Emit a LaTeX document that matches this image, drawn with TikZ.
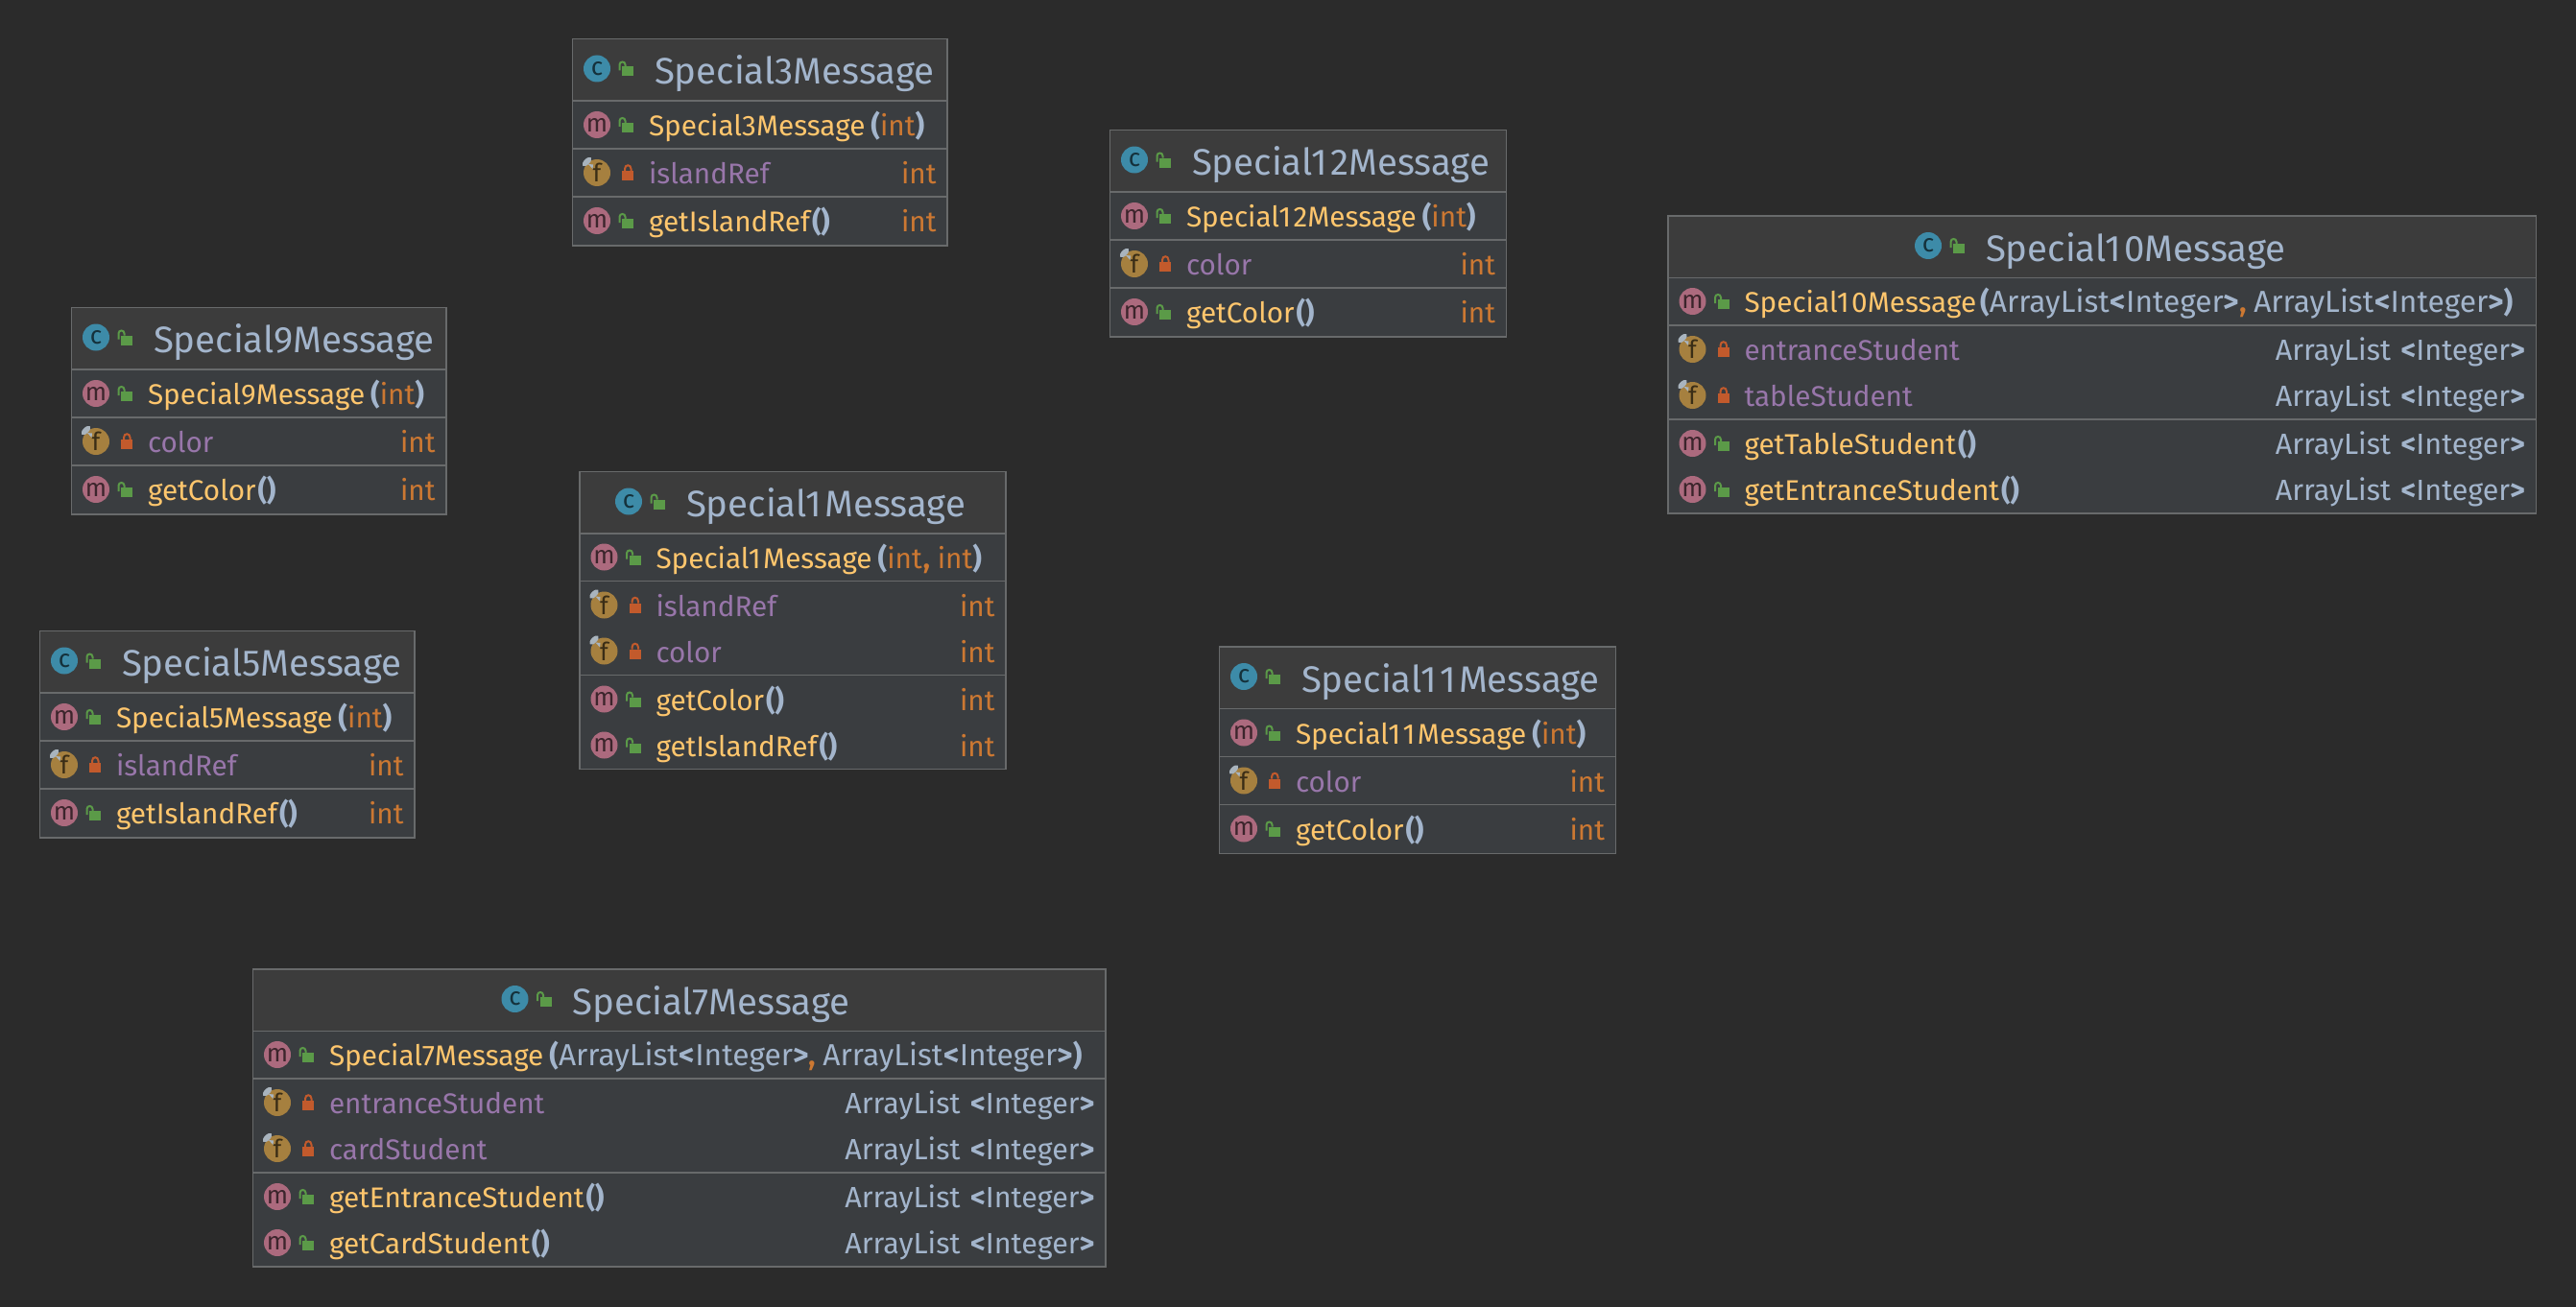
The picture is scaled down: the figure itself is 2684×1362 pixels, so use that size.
\documentclass[tikz,border=0pt]{standalone}
\usepackage{fontspec}
\setmainfont{Fira Sans}
\definecolor{bgc}{HTML}{2B2B2B}
\definecolor{headc}{HTML}{3C3C3C}
\definecolor{bodyc}{HTML}{3A3D40}
\definecolor{linec}{HTML}{686A6B}
\definecolor{titlec}{HTML}{A3B5CC}
\definecolor{methc}{HTML}{FFC66D}
\definecolor{fieldc}{HTML}{9876AA}
\definecolor{typec}{HTML}{CC7832}
\definecolor{icc}{HTML}{3D8BA8}
\definecolor{icm}{HTML}{AC6A7E}
\definecolor{icf}{HTML}{A6803F}
\definecolor{lockg}{HTML}{5B9A48}
\definecolor{lockr}{HTML}{C25A2C}
\definecolor{pinc}{HTML}{A9B4BE}
\tikzset{
  boxbody/.style={draw=linec,line width=1.8pt,fill=bodyc,anchor=north west,inner sep=0,outer sep=0},
  boxhead/.style={draw=linec,line width=1.8pt,fill=headc,anchor=north west,inner sep=0,outer sep=0},
  sepline/.style={draw=linec,line width=1.6pt},
  titletext/.style={anchor=base west,inner sep=0,outer sep=0,text=titlec,font=\fontsize{38.4}{40}\selectfont},
  rowtext/.style={anchor=base west,inner sep=0,outer sep=0,font=\fontsize{29.7}{32}\selectfont},
  righttext/.style={anchor=base east,inner sep=0,outer sep=0,text=titlec,font=\fontsize{29.7}{32}\selectfont},
  iconc/.style={circle,minimum size=28pt,inner sep=0,outer sep=0},
  iconm/.style={iconc,font=\fontsize{26}{26}\selectfont},
}
% small text helpers
\newcommand\oo{1\kern.08em }
\newcommand\pl{{\color{titlec}\textbf{(}}}
\newcommand\pr{{\color{titlec}\textbf{)}}}
\newcommand\emptyargs{\kern2pt{\color{titlec}\textbf{(\kern-.5pt)}}}
\newcommand\ty[1]{{\color{typec}#1}}
\newcommand\lst{{\color{titlec}\fontsize{31.7}{34}\selectfont ArrayList\kern1pt\textbf{<}Integer\textbf{>}}}
\newcommand\rlist{{\fontsize{30.5}{32}\selectfont ArrayList\kern10.5pt\textbf{<}Integer\textbf{>}}}
% lock glyphs, drawn around an icon centre at local (0,0)
\newcommand\lockopen{%
  \fill[lockg] (26,-2) rectangle (38,8);
  \draw[lockg,line width=2pt] (23.5,2) -- (23.5,-4) .. controls (23.5,-8) and (29.5,-8) .. (29.5,-4) -- (29.5,-2);}
\newcommand\lockshut{%
  \fill[lockr] (26,-2) rectangle (38,8);
  \draw[lockr,line width=2pt] (29,-2) -- (29,-4) .. controls (29,-9) and (35.5,-9) .. (35.5,-4) -- (35.5,-2);}
\newcommand\pin{%
  \fill[pinc,shift={(-10.5,-11.5)},rotate=45] (0,0) ellipse [x radius=6pt,y radius=3pt];
  \fill[pinc] (-9,-9) -- (-4,-8.5) -- (-4.5,-4) -- cycle;}
% #1 name, #2 left, #3 top, #4 width, #5 height, #6 local icon x, #7 title, #8 rows
\newcommand\classbox[8]{%
  \begin{scope}[shift={(#2,#3)},name prefix=#1-]
    \def\bw{#4}%
    \node[boxbody,minimum width=#4pt,minimum height=#5pt] (box) at (0,0) {};
    \node[boxhead,minimum width=#4pt,minimum height=64.5pt] (head) at (0,0) {};
    \begin{scope}[shift={(#6,31)}]
      \node[iconc,iconm,fill=icc,text=icc!35!black] (ticon) at (0,0) {c};
      \lockopen
      \node[titletext] (title) at (60,16.4) {#7};
    \end{scope}
    #8
  \end{scope}}
\newcommand\sepat[1]{\draw[sepline] (0,#1) -- (\bw,#1);}
% #1 row name, #2 y centre, #3 left text, #4 right text
\newcommand\methrow[4]{%
  \begin{scope}[shift={(25.5,#2)}]
    \node[iconc,iconm,fill=icm,text=icm!35!black] (#1icon) at (0,0) {m};
    \lockopen
    \node[rowtext,text=methc] (#1name) at (54,11.5) {#3};
  \end{scope}
  \node[righttext] (#1type) at (\bw-11.5,#2+11.5) {#4};}
\newcommand\fieldrow[4]{%
  \begin{scope}[shift={(25.5,#2)}]
    \node[iconc,iconm,fill=icf,text=icf!35!black] (#1icon) at (0,0) {f};
    \pin
    \lockshut
    \node[rowtext,text=fieldc] (#1name) at (54,11.5) {#3};
  \end{scope}
  \node[righttext] (#1type) at (\bw-11.5,#2+11.5) {#4};}
% the box with one constructor, one field, one getter; #8 is the printed name
\newcommand\smallbox[8]{%
  \classbox{#1}{#2}{#3}{#4}{215.5}{#5}{#8}{%
    \methrow{ctor}{89.5}{#8\kern6pt\pl\ty{int}\pr}{}
    \fieldrow{fld}{139.5}{#6}{\ty{int}}
    \methrow{get}{189.5}{#7\emptyargs}{\ty{int}}
    \sepat{114.5}\sepat{164.5}}}
\begin{document}
\begin{tikzpicture}[x=1pt,y=-1pt]
\useasboundingbox (0,0) rectangle (2684,1362);
\fill[bgc] (0,0) rectangle (2684,1362);

\smallbox{S3}{596.5}{40.5}{390.5}{25.5}{islandRef}{getIslandRef}{Special3Message}
\smallbox{S12}{1156.5}{135.5}{413}{25.5}{color}{getColor}{Special\oo 2Message}
\smallbox{S9}{74.5}{320.5}{390.5}{25.5}{color}{getColor}{Special9Message}
\smallbox{S5}{41.5}{657.5}{390.5}{25.5}{islandRef}{getIslandRef}{Special5Message}
\smallbox{S11}{1270.5}{674}{413}{25.5}{color}{getColor}{Special\oo\oo Message}

\classbox{S1}{604}{491.5}{444}{310}{51}{Special\oo Message}{%
  \methrow{ctor}{89}{Special\oo Message\kern6pt\pl\ty{int\kern1pt\textbf{,} int}\pr}{}
  \fieldrow{fa}{139}{islandRef}{\ty{int}}
  \fieldrow{fb}{187}{color}{\ty{int}}
  \methrow{ga}{237}{getColor\emptyargs}{\ty{int}}
  \methrow{gb}{285}{getIslandRef\emptyargs}{\ty{int}}
  \sepat{114}\sepat{212}}

\classbox{S10}{1738}{225}{904.5}{310}{271}{Special\oo 0Message}{%
  \methrow{ctor}{89}{Special\oo 0Message\kern4pt\pl\lst\ty{\textbf{,}} \lst\pr}{}
  \fieldrow{fa}{139}{entranceStudent}{\rlist}
  \fieldrow{fb}{187}{tableStudent}{\rlist}
  \methrow{ga}{237}{getTableStudent\emptyargs}{\rlist}
  \methrow{gb}{285}{getEntranceStudent\emptyargs}{\rlist}
  \sepat{114}\sepat{212}}

\classbox{S7}{263.5}{1010}{888.5}{310}{273}{Special7Message}{%
  \methrow{ctor}{89}{Special7Message\kern6pt\pl\lst\ty{\textbf{,}} \lst\pr}{}
  \fieldrow{fa}{139}{entranceStudent}{\rlist}
  \fieldrow{fb}{187}{cardStudent}{\rlist}
  \methrow{ga}{237}{getEntranceStudent\emptyargs}{\rlist}
  \methrow{gb}{285}{getCardStudent\emptyargs}{\rlist}
  \sepat{114}\sepat{212}}
\end{tikzpicture}
\end{document}
